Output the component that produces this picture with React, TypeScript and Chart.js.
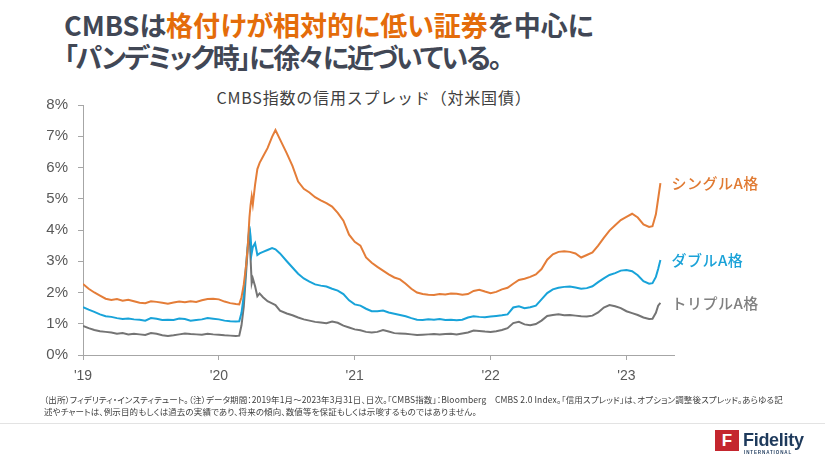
import React, { useEffect, useRef } from "react";
import { Chart, registerables } from "chart.js";

Chart.register(...registerables);

// x values: months since Jan 2019
const monthsSince2019 = [
  0, 0.5, 1, 1.5, 2, 2.5, 3, 3.5, 4, 4.5, 5, 5.5, 6, 6.5, 7, 7.5, 8, 8.5, 9, 9.5, 10, 10.5, 11, 11.5, 12, 12.5, 13, 13.5,
  13.8, 14.0, 14.2, 14.4, 14.55, 14.7, 14.8, 14.9, 15.0, 15.2, 15.4, 15.6, 15.9, 16.3, 16.7, 17.0, 17.4,
  18.0, 18.5, 19.0, 19.5, 20.0, 20.5, 21.0, 21.5, 22.0, 22.5, 23.0, 23.5, 24.0, 24.5, 25.0, 25.5, 26.0, 26.5, 27.0, 27.5,
  28.0, 28.5, 29.0, 29.5, 30.0, 30.5, 31.0, 31.5, 32.0, 32.5, 33.0, 33.5, 34.0, 34.5, 35.0, 35.5, 36.0, 36.5, 37.0, 37.5,
  38.0, 38.5, 39.0, 39.5, 40.0, 40.5, 41.0, 41.5, 42.0, 42.5, 43.0, 43.5, 44.0, 44.5, 45.0, 45.5, 46.0, 46.5, 47.0, 47.5,
  48.0, 48.5, 49.0, 49.5, 50.0,
  50.3, 50.6, 50.8, 51.0,
];

const singleA = [
  2.27, 2.12, 2.0, 1.9, 1.8, 1.76, 1.79, 1.74, 1.77, 1.72, 1.67, 1.66, 1.72, 1.7, 1.67, 1.64, 1.68, 1.71, 1.69, 1.72, 1.7, 1.75, 1.79, 1.8, 1.78, 1.71, 1.66, 1.63,
  1.62, 1.85, 2.25, 2.85, 3.45, 4.4, 4.8, 5.07, 4.82, 5.45, 5.95, 6.15, 6.35, 6.62, 6.98, 7.2, 6.9,
  6.45, 6.05, 5.55, 5.32, 5.2, 5.05, 4.95, 4.86, 4.75, 4.55, 4.3, 3.85, 3.62, 3.5, 3.12, 2.95, 2.82, 2.7, 2.58, 2.48,
  2.42, 2.28, 2.12, 2.0, 1.95, 1.93, 1.92, 1.95, 1.94, 1.97, 1.96, 1.93, 1.95, 2.05, 2.09, 2.03, 1.98, 2.02, 2.1, 2.15,
  2.28, 2.4, 2.44, 2.5, 2.58, 2.75, 3.05, 3.22, 3.3, 3.32, 3.3, 3.25, 3.12, 3.2, 3.28, 3.5, 3.75, 3.98, 4.15, 4.32,
  4.42, 4.52, 4.4, 4.18, 4.1,
  4.12, 4.5, 5.0, 5.5,
];

const doubleA = [
  1.53, 1.45, 1.38, 1.3, 1.24, 1.22, 1.18, 1.15, 1.17, 1.14, 1.13, 1.1, 1.18, 1.16, 1.12, 1.13, 1.12, 1.17, 1.15, 1.1, 1.12, 1.14, 1.18, 1.16, 1.14, 1.1, 1.08, 1.07,
  1.08, 1.35, 1.9, 2.85, 3.5, 4.12, 3.8, 3.25, 3.45, 3.58, 3.2, 3.25, 3.3, 3.36, 3.42, 3.38, 3.25,
  3.0, 2.8, 2.6, 2.45, 2.35, 2.26, 2.22, 2.19, 2.12, 2.06, 1.95, 1.75, 1.62, 1.58, 1.48, 1.4, 1.4, 1.42, 1.36, 1.32,
  1.28, 1.24, 1.18, 1.13, 1.12, 1.14, 1.13, 1.15, 1.12, 1.13, 1.11, 1.13, 1.2, 1.24, 1.22, 1.21, 1.23, 1.25, 1.27, 1.3,
  1.52, 1.56, 1.5, 1.53, 1.58, 1.78, 1.98, 2.1, 2.15, 2.18, 2.19, 2.16, 2.12, 2.14, 2.2, 2.33, 2.45, 2.56, 2.62, 2.7,
  2.72, 2.68, 2.55, 2.36, 2.28,
  2.3, 2.5, 2.75, 3.04,
];

const tripleA = [
  0.93, 0.86, 0.8, 0.76, 0.74, 0.72, 0.68, 0.7, 0.66, 0.68, 0.66, 0.64, 0.7, 0.68, 0.63, 0.61, 0.63, 0.66, 0.69, 0.67, 0.66, 0.65, 0.68, 0.66, 0.65, 0.63, 0.62, 0.61,
  0.62, 0.95, 1.55, 2.6, 3.4, 4.05, 3.1, 2.3, 2.45, 2.2, 1.88, 1.97, 1.85, 1.72, 1.65, 1.6, 1.42,
  1.33, 1.27, 1.2, 1.14, 1.1, 1.06, 1.04, 1.02, 1.07, 1.03, 0.94, 0.88, 0.82, 0.79, 0.74, 0.72, 0.74, 0.8, 0.75, 0.7,
  0.69, 0.68, 0.66, 0.64, 0.65, 0.66, 0.67, 0.66, 0.67, 0.68, 0.66, 0.69, 0.72, 0.78, 0.77, 0.75, 0.74, 0.76, 0.8, 0.86,
  1.02, 1.06, 0.98, 0.95, 0.99, 1.1, 1.25, 1.28, 1.3, 1.27, 1.28, 1.26, 1.24, 1.23, 1.26, 1.36, 1.52, 1.6, 1.56, 1.5,
  1.4, 1.34, 1.28, 1.2, 1.15,
  1.16, 1.35, 1.58, 1.67,
];

const seriesNames = ["シングルA格", "ダブルA格", "トリプルA格"];
const seriesColors = ["#E47D38", "#18A3D9", "#747474"];
const labelColors = ["#E07A32", "#1AA2D8", "#808080"];

const xTickValues = [0, 12, 24, 36, 48];
const xTickLabels = ["'19", "'20", "'21", "'22", "'23"];
const yTickValues = [0, 1, 2, 3, 4, 5, 6, 7, 8];

const AXIS_COLOR = "#A6A6A6";
const TICK_COLOR = "#595959";

const endLabels = {
  id: "endLabels",
  afterDatasetsDraw(chart: any) {
    const { ctx } = chart;
    const xs = chart.scales.x;
    const ys = chart.scales.y;
    chart.data.datasets.forEach((ds: any, i: number) => {
      const last = ds.data[ds.data.length - 1];
      const px = xs.getPixelForValue(last.x) + 11;
      const py = ys.getPixelForValue(last.y);
      ctx.save();
      ctx.font = "500 15px 'Noto Sans CJK JP'";
      ctx.fillStyle = labelColors[i];
      ctx.textBaseline = "middle";
      ctx.textAlign = "left";
      try {
        (ctx as any).letterSpacing = "0.5px";
      } catch (e) {}
      ctx.fillText(ds.label, px, py);
      ctx.restore();
    });
  },
};

function CMBSChart() {
  const ref = useRef<HTMLCanvasElement | null>(null);
  useEffect(() => {
    if (!ref.current) return;
    const series = [singleA, doubleA, tripleA];
    const chart = new Chart(ref.current, {
      type: "line",
      data: {
        datasets: series.map((vals, i) => ({
          label: seriesNames[i],
          data: vals.map((v, j) => ({ x: monthsSince2019[j], y: v })),
          borderColor: seriesColors[i],
          backgroundColor: seriesColors[i],
          borderWidth: 2,
          pointRadius: 0,
          tension: 0,
          fill: false,
        })),
      },
      options: {
        animation: false,
        responsive: false,
        maintainAspectRatio: false,
        layout: { padding: { left: 0, right: 151, top: 105, bottom: 0 } },
        plugins: {
          legend: { display: false },
          title: { display: false },
          tooltip: { enabled: false },
        },
        scales: {
          x: {
            type: "linear",
            min: 0,
            max: 52.2,
            afterFit: (scale: any) => {
              scale.height = 109;
            },
            afterBuildTicks: (scale: any) => {
              scale.ticks = xTickValues.map((v) => ({ value: v }));
            },
            ticks: {
              autoSkip: false,
              maxRotation: 0,
              padding: 8,
              color: TICK_COLOR,
              font: { family: "'Liberation Sans', Arial, sans-serif", size: 14 },
              callback: (v: any) => {
                const idx = xTickValues.indexOf(Number(v));
                return idx >= 0 ? xTickLabels[idx] : "";
              },
            },
            grid: {
              display: true,
              drawOnChartArea: false,
              drawTicks: true,
              tickLength: 5,
              color: AXIS_COLOR,
            },
            border: { display: true, color: AXIS_COLOR, width: 1 },
          },
          y: {
            type: "linear",
            min: 0,
            max: 8,
            afterFit: (scale: any) => {
              scale.width = 83;
            },
            afterBuildTicks: (scale: any) => {
              scale.ticks = yTickValues.map((v) => ({ value: v }));
            },
            ticks: {
              padding: 10,
              color: TICK_COLOR,
              font: { family: "'Liberation Sans', Arial, sans-serif", size: 15 },
              callback: (v: any) => `${v}%`,
            },
            grid: {
              display: true,
              drawOnChartArea: false,
              drawTicks: true,
              tickLength: 5,
              color: AXIS_COLOR,
            },
            border: { display: true, color: AXIS_COLOR, width: 1 },
          },
        },
      },
      plugins: [endLabels],
    } as any);
    return () => chart.destroy();
  }, []);
  return (
    <canvas
      ref={ref}
      width={825}
      height={464}
      style={{ position: "absolute", left: 0, top: 0, width: 825, height: 464 }}
    />
  );
}

export default function App() {
  const cjk = "'Noto Sans CJK JP', 'Noto Sans', sans-serif";
  return (
    <div
      style={{
        position: "absolute",
        left: 0,
        top: 0,
        width: 825,
        height: 464,
        background: "#ffffff",
        overflow: "hidden",
        fontFamily: cjk,
      }}
    >
      <div
        style={{
          position: "absolute",
          left: 64,
          top: 9,
          fontSize: 27,
          lineHeight: "32px",
          fontWeight: 700,
          color: "#414755",
          fontFeatureSettings: '"palt"',
          whiteSpace: "nowrap",
        }}
      >
        <div>
          CMBSは<span style={{ color: "#E46C0A" }}>格付けが相対的に低い証券</span>を中心に
        </div>
        <div style={{ letterSpacing: "-2px" }}>「パンデミック時」に徐々に近づいている。</div>
      </div>
      <div
        style={{
          position: "absolute",
          left: 0,
          width: 748,
          top: 86,
          textAlign: "center",
          fontSize: 16,
          lineHeight: "22px",
          letterSpacing: "0.8px",
          color: "#404040",
          whiteSpace: "nowrap",
        }}
      >
        CMBS指数の信用スプレッド（対米国債）
      </div>
      <CMBSChart />
      <div
        style={{
          position: "absolute",
          left: 44,
          top: 393,
          fontSize: 8.5,
          lineHeight: "12px",
          letterSpacing: "0.12px",
          color: "#404040",
          whiteSpace: "nowrap",
          fontFeatureSettings: '"palt"',
        }}
      >
        <div>
          （出所）フィデリティ・インスティテュート。（注）データ期間：2019年1月～2023年3月31日、日次。「CMBS指数」：Bloomberg　CMBS 2.0 Index。「信用スプレッド」は、オプション調整後スプレッド。あらゆる記
        </div>
        <div>述やチャートは、例示目的もしくは過去の実績であり、将来の傾向、数値等を保証もしくは示唆するものではありません。</div>
      </div>
      <div
        style={{
          position: "absolute",
          left: 0,
          top: 423,
          width: 825,
          height: 1,
          background: "#E3E3E3",
        }}
      />
      <div
        style={{
          position: "absolute",
          left: 715,
          top: 430,
          width: 24,
          height: 21,
          background: "#C4262E",
          color: "#ffffff",
          fontFamily: "'Liberation Sans', Arial, sans-serif",
          fontWeight: 700,
          fontSize: 17,
          lineHeight: "21px",
          textAlign: "center",
        }}
      >
        F
      </div>
      <div
        style={{
          position: "absolute",
          left: 743,
          top: 429,
          fontFamily: "'Liberation Sans', Arial, sans-serif",
          fontWeight: 700,
          fontSize: 18,
          lineHeight: "22px",
          color: "#1E3A5C",
          letterSpacing: "-0.3px",
        }}
      >
        Fidelity
      </div>
      <div
        style={{
          position: "absolute",
          left: 744,
          top: 450,
          fontFamily: "'Liberation Sans', Arial, sans-serif",
          fontWeight: 700,
          fontSize: 4.5,
          lineHeight: "6px",
          letterSpacing: "0.9px",
          color: "#1E3A5C",
        }}
      >
        INTERNATIONAL
      </div>
    </div>
  );
}
